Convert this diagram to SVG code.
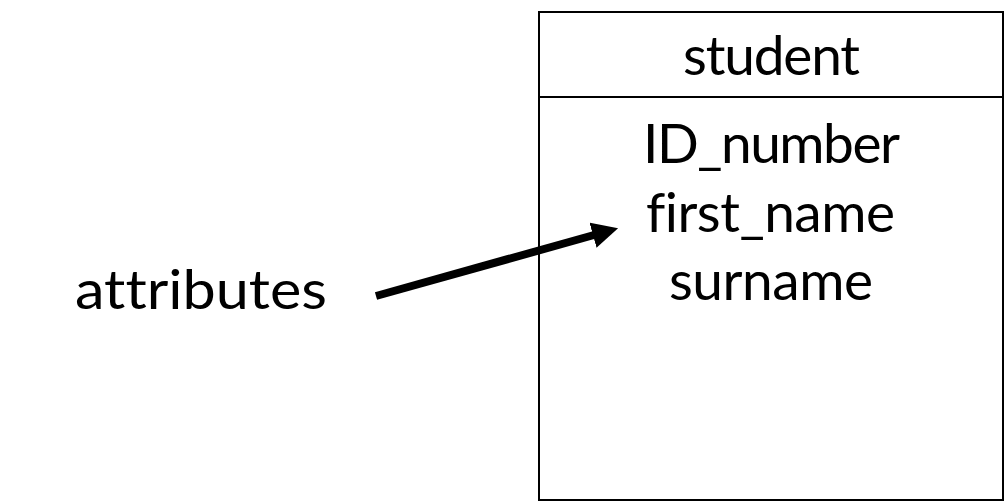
<svg xmlns="http://www.w3.org/2000/svg" width="1005" height="502" viewBox="0 0 1005 502">
<style>
  .t { font-family: Lato, "Open Sans", "Liberation Sans", sans-serif; font-size: 55px; fill: #000; font-variant-ligatures: none; font-feature-settings: "liga" 0, "clig" 0; }
  .box { fill: #fff; stroke: #000; stroke-width: 2; }
  .conn { stroke: #000; stroke-width: 8; fill: none; }
</style>
<defs>
  <marker id="head" markerUnits="userSpaceOnUse" viewBox="0 0 26 26" markerWidth="26" markerHeight="26" refX="1" refY="13" orient="auto">
    <path d="M0,0 L26,13 L0,26 z" fill="#000"/>
  </marker>
</defs>
<rect width="1005" height="502" fill="#fff"/>
<g id="student">
  <rect class="box" x="539" y="12" width="464" height="488"/>
  <line x1="539" y1="97" x2="1003" y2="97" stroke="#000" stroke-width="2"/>
  <text class="t" x="683" y="75" textLength="177">student</text>
  <text class="t" x="643" y="163" textLength="257">ID_number</text>
  <text class="t" x="646" y="232" textLength="249">first_name</text>
  <text class="t" x="669" y="300" textLength="204">surname</text>
</g>
<g id="attributes">
  <text class="t" x="75" y="309" textLength="252" lengthAdjust="spacingAndGlyphs">attributes</text>
</g>
<g id="connectors">
  <line class="conn" x1="376" y1="296" x2="594" y2="235" marker-end="url(#head)"/>
</g>
</svg>
